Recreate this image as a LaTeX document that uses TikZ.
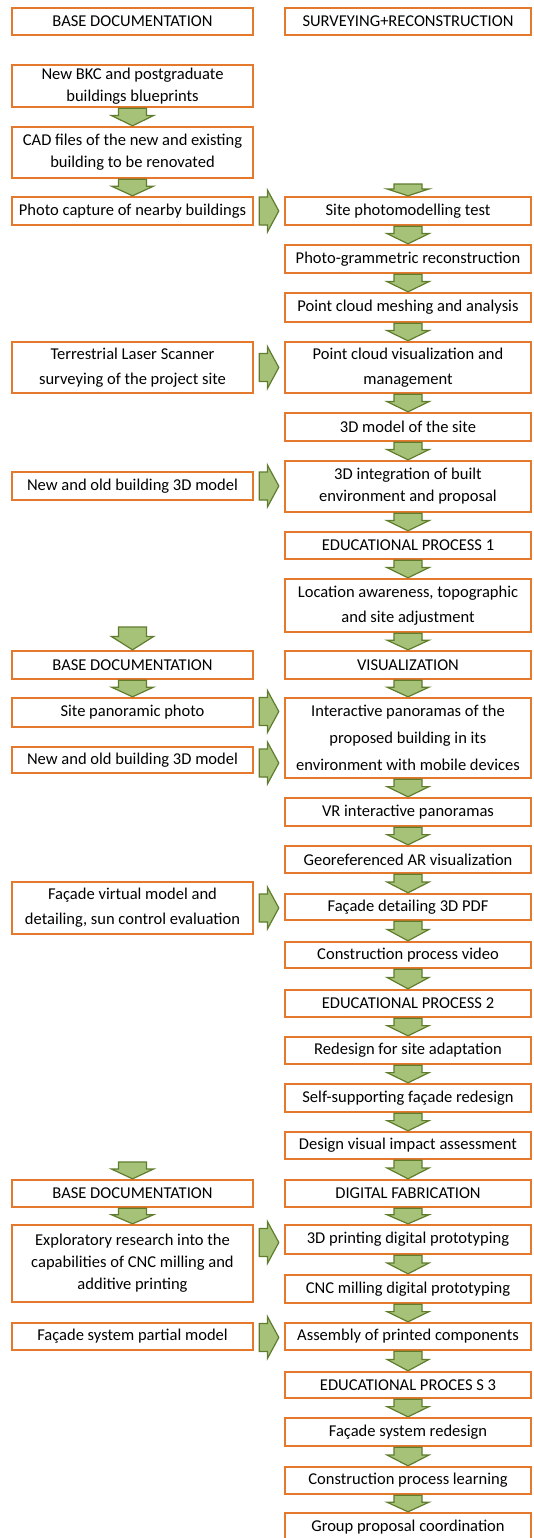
\documentclass[tikz,border=0pt]{standalone}
\usepackage{fontspec}
\setmainfont{Carlito}
\usetikzlibrary{calc}
\definecolor{boxor}{RGB}{228,120,45}
\definecolor{arrfill}{RGB}{166,194,120}
\definecolor{arrdraw}{RGB}{95,125,45}
% box: [baselineskip]{name}{x1}{y1}{x2}{y2}{text}  (pixel coordinates)
\newcommand\bx[7][16.5]{\node[box, font=\fontsize{12.4}{#1}\selectfont,
  minimum width={(#5-#3)*0.75pt}, minimum height={(#6-#4)*0.75pt}]
  (#2) at ({(#3+#5)/2},{(#4+#6)/2}) {#7};}
\newcommand\garrowdown[2]{%
  \coordinate (ta) at #1; \coordinate (tb) at #2;
  \coordinate (tm) at ($(ta)!0.42!(tb)$);
  \draw[garrow] ([xshift=-10.5pt]ta) -- ([xshift=10.5pt]ta) -- ([xshift=10.5pt]tm)
    -- ([xshift=15.75pt]tm) -- (tb) -- ([xshift=-15.75pt]tm) -- ([xshift=-10.5pt]tm) -- cycle;}
\newcommand\garrowright[2]{%
  \coordinate (ta) at #1; \coordinate (tb) at #2;
  \coordinate (tm) at ($(ta)!0.42!(tb)$);
  \draw[garrow] ([yshift=10.5pt]ta) -- ([yshift=-10.5pt]ta) -- ([yshift=-10.5pt]tm)
    -- ([yshift=-15.75pt]tm) -- (tb) -- ([yshift=15.75pt]tm) -- ([yshift=10.5pt]tm) -- cycle;}
\begin{document}
\begin{tikzpicture}[x=0.75pt,y=-0.75pt,
  box/.style={draw=boxor, line width=1.8pt, fill=white, inner sep=0pt, align=center},
  garrow/.style={draw=arrdraw, fill=arrfill, line width=0.9pt, line join=miter}]
\useasboundingbox (0,0) rectangle (534,1538);
% left column
\bx{L1}{12}{8}{253}{35}{BASE DOCUMENTATION}
\bx{L2}{12}{65}{253}{107}{New BKC and postgraduate\\buildings blueprints}
\bx{L3}{12}{127}{253}{178}{CAD files of the new and existing\\building to be renovated}
\bx{L4}{12}{197}{253}{225}{Photo capture of nearby buildings}
\bx[18.75]{L5}{12}{342}{253}{393}{Terrestrial Laser Scanner\\surveying of the project site}
\bx{L6}{12}{472}{253}{500}{New and old building 3D model}
\bx{L7}{12}{651}{253}{679}{BASE DOCUMENTATION}
\bx{L8}{12}{698}{253}{727}{Site panoramic photo}
\bx{L9}{12}{747}{253}{773}{New and old building 3D model}
\bx[18.75]{L10}{12}{882}{253}{934}{Façade virtual model and\\detailing, sun control evaluation}
\bx{L11}{12}{1180}{253}{1207}{BASE DOCUMENTATION}
\bx{L12}{12}{1225}{253}{1302}{Exploratory research into the\\capabilities of CNC milling and\\additive printing}
\bx{L13}{12}{1323}{253}{1350}{Façade system partial model}
% right column
\bx{R1}{285}{8}{531}{35}{SURVEYING+RECONSTRUCTION}
\bx{R2}{285}{197}{531}{225}{Site photomodelling test}
\bx{R3}{285}{245}{531}{273}{Photo-grammetric reconstruction}
\bx{R4}{285}{293}{531}{322}{Point cloud meshing and analysis}
\bx[18.75]{R5}{285}{342}{531}{393}{Point cloud visualization and\\management}
\bx{R6}{285}{413}{531}{441}{3D model of the site}
\bx{R7}{285}{461}{531}{512}{3D integration of built\\environment and proposal}
\bx{R8}{285}{532}{531}{559}{EDUCATIONAL PROCESS 1}
\bx[18.75]{R9}{285}{579}{531}{632}{Location awareness, topographic\\and site adjustment}
\bx{R10}{285}{651}{531}{679}{VISUALIZATION}
\bx[20.25]{R11}{285}{698}{531}{778}{Interactive panoramas of the\\proposed building in its\\environment with mobile devices}
\bx{R12}{285}{798}{531}{826}{VR interactive panoramas}
\bx{R13}{285}{846}{531}{873}{Georeferenced AR visualization}
\bx{R14}{285}{894}{531}{920}{Façade detailing 3D PDF}
\bx{R15}{285}{942}{531}{968}{Construction process video}
\bx{R16}{285}{990}{531}{1017}{EDUCATIONAL PROCESS 2}
\bx{R17}{285}{1037}{531}{1064}{Redesign for site adaptation}
\bx{R18}{285}{1084}{531}{1112}{Self-supporting façade redesign}
\bx{R19}{285}{1132}{531}{1159}{Design visual impact assessment}
\bx{R20}{285}{1180}{531}{1207}{DIGITAL FABRICATION}
\bx{R21}{285}{1225}{531}{1254}{3D printing digital prototyping}
\bx{R22}{285}{1275}{531}{1303}{CNC milling digital prototyping}
\bx{R23}{285}{1323}{531}{1350}{Assembly of printed components}
\bx{R24}{285}{1372}{531}{1398}{EDUCATIONAL PROCES S 3}
\bx{R25}{285}{1418}{531}{1446}{Façade system redesign}
\bx{R26}{285}{1467}{531}{1494}{Construction process learning}
\bx{R27}{285}{1513}{531}{1541}{Group proposal coordination}
% free arrow starts
\coordinate (fL7) at (132.5,627);
\coordinate (fL11) at (132.5,1162);
\coordinate (fR2) at (408,184);
% down arrows, left column
\garrowdown{(L2.south)}{(L3.north)}
\garrowdown{(L3.south)}{(L4.north)}
\garrowdown{(fL7)}{(L7.north)}
\garrowdown{(L7.south)}{(L8.north)}
\garrowdown{(fL11)}{(L11.north)}
\garrowdown{(L11.south)}{(L12.north)}
% down arrows, right column
\garrowdown{(fR2)}{(R2.north)}
\foreach \a/\b in {R2/R3,R3/R4,R4/R5,R5/R6,R6/R7,R7/R8,R8/R9,R9/R10,R10/R11,R11/R12,
  R12/R13,R13/R14,R14/R15,R15/R16,R16/R17,R17/R18,R18/R19,R19/R20,R20/R21,R21/R22,
  R22/R23,R23/R24,R24/R25,R25/R26,R26/R27}{\garrowdown{(\a.south)}{(\b.north)}}
% side arrows
\garrowright{($(L4.east)+(5,0)$)}{($(R2.west)+(-5,0)$)}
\garrowright{($(L5.east)+(5,0)$)}{($(R5.west)+(-5,0)$)}
\garrowright{($(L6.east)+(5,0)$)}{($(L6.east -| R7.west)+(-5,0)$)}
\garrowright{($(L8.east)+(5,-1)$)}{($(L8.east -| R11.west)+(-5,-1)$)}
\garrowright{($(L9.east)+(5,3)$)}{($(L9.east -| R11.west)+(-5,3)$)}
\garrowright{($(L10.east)+(5,0)$)}{($(L10.east -| R14.west)+(-5,0)$)}
\garrowright{($(L12.east |- R21.west)+(5,3)$)}{($(R21.west)+(-5,3)$)}
\garrowright{($(L13.east)+(5,1)$)}{($(L13.east -| R23.west)+(-5,1)$)}
\end{tikzpicture}
\end{document}
